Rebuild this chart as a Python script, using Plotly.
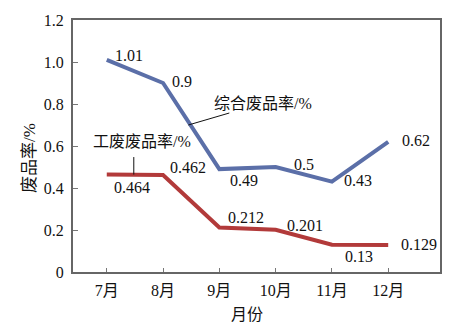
import plotly.graph_objects as go

months = ["7月", "8月", "9月", "10月", "11月", "12月"]
total_rate = [1.01, 0.9, 0.49, 0.5, 0.43, 0.62]
work_rate = [0.464, 0.462, 0.212, 0.201, 0.13, 0.129]
total_labels = ["1.01", "0.9", "0.49", "0.5", "0.43", "0.62"]
work_labels = ["0.464", "0.462", "0.212", "0.201", "0.13", "0.129"]
y_ticks = [0, 0.2, 0.4, 0.6, 0.8, 1.0, 1.2]
y_ticktext = ["0", "0.2", "0.4", "0.6", "0.8", "1.0", "1.2"]

BLUE = "#5b6fa8"
RED = "#b23a3a"
FONT = "Liberation Serif, Noto Sans CJK SC, serif"

x_idx = list(range(len(months)))

fig = go.Figure()
fig.add_trace(go.Scatter(x=x_idx, y=total_rate, mode="lines",
                         line=dict(color=BLUE, width=4), showlegend=False))
fig.add_trace(go.Scatter(x=x_idx, y=work_rate, mode="lines",
                         line=dict(color=RED, width=4), showlegend=False))

ann = []
total_shift = [(22, 4), (19, 2), (25, -11), (28, 3), (26, 1), (28, 1)]
work_shift = [(25, -13), (25, 7), (27, 10), (29, 4), (27, -12), (31, 0)]
for i, (v, t) in enumerate(zip(total_rate, total_labels)):
    ann.append(dict(x=i, y=v, text=t, showarrow=False, xshift=total_shift[i][0],
                    yshift=total_shift[i][1], font=dict(size=16, color="#111", family=FONT)))
for i, (v, t) in enumerate(zip(work_rate, work_labels)):
    ann.append(dict(x=i, y=v, text=t, showarrow=False, xshift=work_shift[i][0],
                    yshift=work_shift[i][1], font=dict(size=16, color="#111", family=FONT)))

# series name callouts
ann.append(dict(x=1.45, y=0.70, text="综合废品率/%", showarrow=True, arrowhead=0,
                arrowwidth=1, arrowcolor="#111", ax=75, ay=-22, standoff=0,
                font=dict(size=16, color="#111", family=FONT)))
ann.append(dict(x=0.48, y=0.464, text="工废废品率/%", showarrow=False,
                yshift=33, xshift=8, font=dict(size=16, color="#111", family=FONT)))
ann.append(dict(x=0.48, y=0.464, text=" ", showarrow=True, arrowhead=0,
                arrowwidth=1, arrowcolor="#111", ax=0, ay=-20, standoff=0,
                font=dict(size=2, color="#111", family=FONT)))

# axis titles
ann.append(dict(xref="paper", yref="paper", x=-0.117, y=0.453, xanchor="center",
                yanchor="middle", text="废品率/%", textangle=-90, showarrow=False,
                font=dict(size=17, color="#111", family=FONT)))
ann.append(dict(xref="paper", yref="paper", x=0.473, y=-0.167, xanchor="center",
                yanchor="middle", text="月份", showarrow=False,
                font=dict(size=16, color="#111", family=FONT)))

fig.update_layout(
    width=454, height=329,
    margin=dict(l=73, r=13, t=14, b=57),
    paper_bgcolor="white", plot_bgcolor="white",
    annotations=ann,
    font=dict(family=FONT, size=16, color="#111"),
    xaxis=dict(range=[-0.6, 5.92], tickmode="array", tickvals=x_idx, ticktext=months,
               showgrid=False, zeroline=False, showline=True, linecolor="#666", linewidth=2,
               mirror=True, ticks="inside", ticklen=4, tickcolor="#777", tickwidth=1,
               ticklabelstandoff=3, tickfont=dict(size=16, family=FONT, color="#111")),
    yaxis=dict(range=[0, 1.2], tickmode="array", tickvals=y_ticks, ticktext=y_ticktext,
               showgrid=False, zeroline=False, showline=True, linecolor="#666", linewidth=2,
               mirror=True, ticks="inside", ticklen=5, tickcolor="#777", tickwidth=1,
               ticklabelstandoff=4, tickfont=dict(size=16, family=FONT, color="#111")),
)

fig.write_html("out.html")
